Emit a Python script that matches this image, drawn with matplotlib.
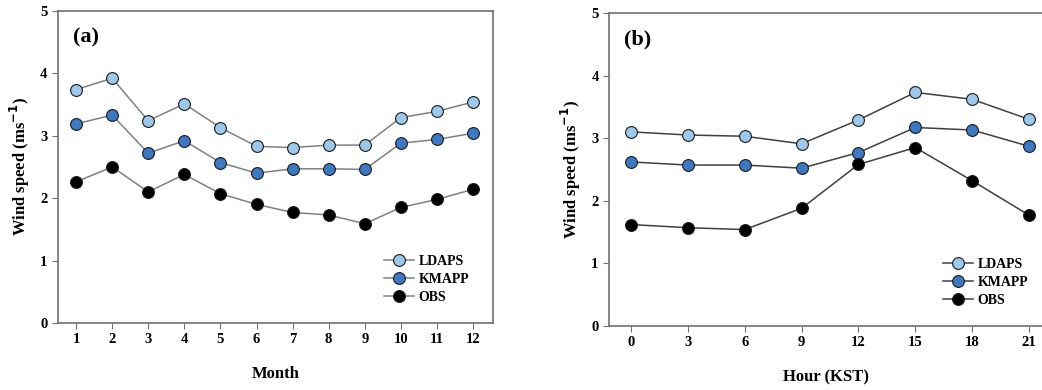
import matplotlib.pyplot as plt

plt.rcParams['font.family'] = ['Liberation Serif', 'DejaVu Serif']
plt.rcParams['font.weight'] = 'bold'

months = list(range(1, 13))
ldaps_m = [3.74, 3.92, 3.24, 3.51, 3.13, 2.83, 2.81, 2.85, 2.85, 3.29, 3.39, 3.54]
kmapp_m = [3.19, 3.33, 2.72, 2.92, 2.57, 2.40, 2.47, 2.47, 2.46, 2.88, 2.94, 3.04]
obs_m = [2.26, 2.50, 2.10, 2.38, 2.07, 1.90, 1.77, 1.73, 1.59, 1.85, 1.98, 2.14]

hours = [0, 3, 6, 9, 12, 15, 18, 21]
ldaps_h = [3.10, 3.05, 3.03, 2.91, 3.29, 3.73, 3.62, 3.30]
kmapp_h = [2.62, 2.57, 2.57, 2.52, 2.77, 3.17, 3.13, 2.87]
obs_h = [1.62, 1.57, 1.54, 1.88, 2.58, 2.85, 2.32, 1.77]

c_ldaps = '#9cc8ec'
c_kmapp = '#3d78c2'
c_obs = '#000000'
spine_c = '#707070'

fig = plt.figure(figsize=(10.42, 3.9), dpi=100)
ax1 = fig.add_axes([0.0557, 0.172, 0.4173, 0.8])
ax2 = fig.add_axes([0.5845, 0.164, 0.4165, 0.803])


def panel(ax, x, series, xlim, xlabel, tag, leg_anchor, line_c):
    for y, c, name in series:
        ax.plot(x, y, '-o', color=line_c, lw=1.1, markersize=8.5,
                markerfacecolor=c, markeredgecolor='#1a1a1a', markeredgewidth=0.8,
                label=name)
    ax.set_xlim(*xlim)
    ax.set_ylim(0, 5)
    ax.set_xticks(x)
    ax.set_yticks(range(6))
    ax.tick_params(labelsize=10.5, length=4, color=spine_c, direction='out')
    for s in ax.spines.values():
        s.set_color(spine_c)
        s.set_linewidth(1.2)
    ax.set_xlabel(xlabel, fontsize=12, fontweight='bold', labelpad=14)
    ax.set_ylabel('Wind speed (ms$^{\\mathbf{-1}}$)', fontsize=12, fontweight='bold',
                  labelpad=6)
    ax.text(0.035, 0.915, tag, transform=ax.transAxes, fontsize=16,
            fontweight='bold', va='center')
    leg = ax.legend(loc='center left', bbox_to_anchor=leg_anchor, frameon=False,
                    fontsize=10, handlelength=2.2, handletextpad=0.3,
                    labelspacing=0.35)
    return leg


panel(ax1, months,
      [(ldaps_m, c_ldaps, 'LDAPS'), (kmapp_m, c_kmapp, 'KMAPP'), (obs_m, c_obs, 'OBS')],
      (0.5, 12.55), 'Month', '(a)', (0.72, 0.14), '#808080')
panel(ax2, hours,
      [(ldaps_h, c_ldaps, 'LDAPS'), (kmapp_h, c_kmapp, 'KMAPP'), (obs_h, c_obs, 'OBS')],
      (-1.16, 21.74), 'Hour (KST)', '(b)', (0.74, 0.139), '#404040')
ax2.spines['right'].set_visible(False)

fig.savefig('out.png', dpi=100)
